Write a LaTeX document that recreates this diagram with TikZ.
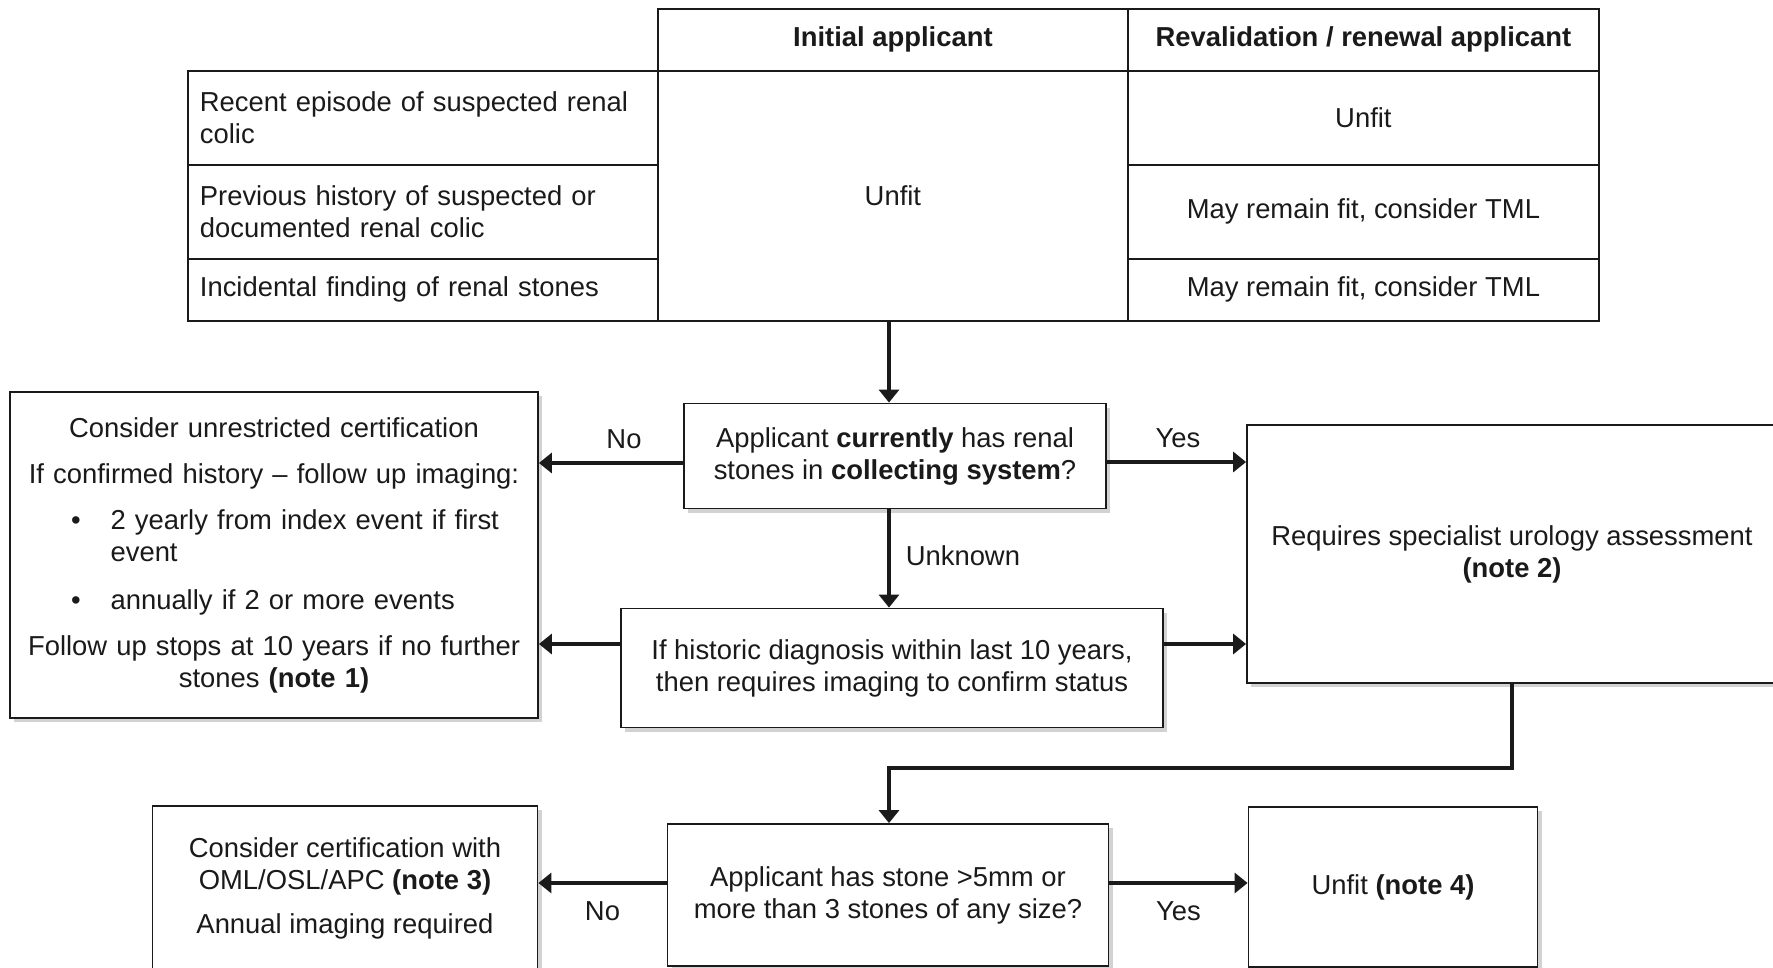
\documentclass[tikz,border=0pt]{standalone}
\usepackage{fontspec}
\setmainfont{Liberation Sans}
\usepackage{xcolor}
\usepackage{tikz}
\usetikzlibrary{arrows.meta,positioning,calc,shadows}
\definecolor{reindark}{HTML}{1A1A1A}
\definecolor{reingrey}{HTML}{7F7F7F}
\newcommand{\reinfont}{\fontsize{27.4}{32}\selectfont}
\newcommand{\puce}[1]{\makebox[\linewidth][l]{\hspace*{51pt}\textbullet\hspace*{30pt}\parbox[t]{420pt}{\raggedright #1}}}

\begin{document}
\begin{tikzpicture}[x=1pt,y=-1pt,
    cellule/.style={draw=reindark, line width=1.8pt, anchor=north west, inner sep=0pt,
                    font=\reinfont, text=reindark},
    boite/.style={draw=reindark, line width=1.8pt, fill=white, align=center, inner sep=0pt,
                  font=\reinfont, text=reindark,
                  drop shadow={shadow xshift=4pt, shadow yshift=-4pt, opacity=.35, fill=reingrey}},
    fleche/.style={draw=reindark, line width=3.6pt, -{Triangle[length=13pt,width=20pt]}},
    etiq/.style={font=\reinfont, text=reindark, text height=20pt, text depth=6pt, inner sep=3pt}]
  \path[use as bounding box, clip] (0,0) rectangle (1773,968);
  % tableau du haut
  \node[cellule, minimum width=470pt, minimum height=62pt, font=\reinfont\bfseries] (tetinit) at (657,8) {Initial applicant};
  \node[cellule, minimum width=471pt, minimum height=62pt, font=\reinfont\bfseries] (tetrenouv) at (1127,8) {Revalidation / renewal applicant};
  \node[cellule, minimum width=470pt, minimum height=94pt, text width=446pt, align=left] (recent) at (187,70) {Recent episode of suspected renal\\colic};
  \node[cellule, minimum width=470pt, minimum height=94pt, text width=446pt, align=left] (ancien) at (187,164) {Previous history of suspected or\\documented renal colic};
  \node[cellule, minimum width=470pt, minimum height=62pt, text width=446pt, align=left] (fortuit) at (187,258) {Incidental finding of renal stones};
  \node[cellule, minimum width=470pt, minimum height=250pt] (initiale) at (657,70) {Unfit};
  \node[cellule, minimum width=471pt, minimum height=94pt] (renunfit) at (1127,70) {Unfit};
  \node[cellule, minimum width=471pt, minimum height=94pt] (rentml) at (1127,164) {May remain fit, consider TML};
  \node[cellule, minimum width=471pt, minimum height=62pt] (rentmlb) at (1127,258) {May remain fit, consider TML};
  % boites du logigramme
  \coordinate (axe) at (889,0);
  \node[boite, minimum width=422pt, minimum height=105pt] (verif) at (895,456) {Applicant \textbf{currently} has renal\\stones in \textbf{collecting system}?};
  \node[boite, minimum width=528pt, minimum height=326pt, text width=508pt] (suivi) at (274,555) {Consider unrestricted certification\\[14pt]
    If confirmed history -- follow up imaging:\\[14pt]
    \puce{2 yearly from index event if first\\event}\\[27pt]
    \puce{annually if 2 or more events}\\[14pt]
    Follow up stops at 10 years if no further\\stones \textbf{(note 1)}};
  \node[boite, minimum width=530pt, minimum height=258pt] (uro) at (1512,554) {Requires specialist urology assessment\\\textbf{(note 2)}};
  \node[boite, minimum width=542pt, minimum height=119pt] (historique) at (892,668) {If historic diagnosis within last 10 years,\\then requires imaging to confirm status};
  \node[boite, minimum width=441pt, minimum height=142pt] (taille) at (888,895) {Applicant has stone >5mm or\\more than 3 stones of any size?};
  \node[boite, minimum width=385pt, minimum height=164pt] (certif) at (345,888) {Consider certification with\\OML/OSL/APC \textbf{(note 3)}\\[12pt]Annual imaging required};
  \node[boite, minimum width=289pt, minimum height=160pt] (inapte) at (1393,887) {Unfit \textbf{(note 4)}};
  % fleches
  \draw[fleche] (initiale.south -| axe) -- (verif.north -| axe);
  \coordinate (nongauche) at ([yshift=-7pt]verif.west);
  \draw[fleche] (nongauche) -- (nongauche -| suivi.east) node[etiq, pos=0.41, above=4pt] {No};
  \coordinate (ouidroite) at ([yshift=-6pt]verif.east);
  \draw[fleche] (ouidroite) -- (ouidroite -| uro.west) node[etiq, pos=0.51, above=4pt] {Yes};
  \draw[fleche] (verif.south -| axe) -- (historique.north -| axe) node[etiq, midway, right=12pt] {Unknown};
  \coordinate (histgauche) at ([yshift=24pt]historique.west);
  \draw[fleche] (histgauche) -- (histgauche -| suivi.east);
  \coordinate (histdroite) at ([yshift=24pt]historique.east);
  \draw[fleche] (histdroite) -- (histdroite -| uro.west);
  \coordinate (coude) at (889,768);
  \draw[fleche] (uro.south) |- (coude) -- (taille.north -| axe);
  \coordinate (taillegauche) at ([yshift=12pt]taille.west);
  \draw[fleche] (taillegauche) -- (taillegauche -| certif.east) node[etiq, midway, below=13pt] {No};
  \coordinate (tailledroite) at ([yshift=12pt]taille.east);
  \draw[fleche] (tailledroite) -- (tailledroite -| inapte.west) node[etiq, midway, below=13pt] {Yes};
\end{tikzpicture}
\end{document}
